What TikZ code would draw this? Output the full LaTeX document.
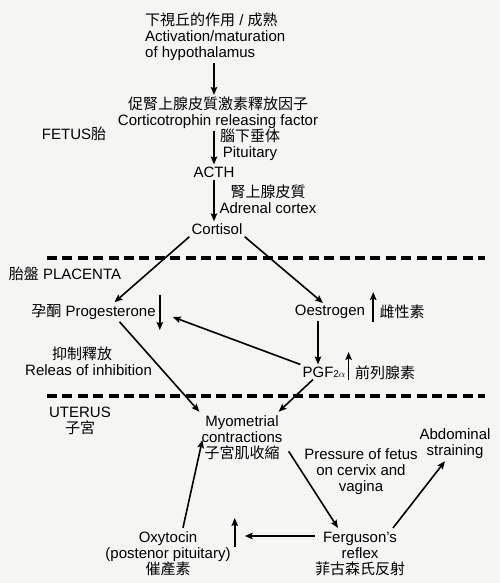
\documentclass[tikz,border=0pt]{standalone}
\usepackage{fontspec}
\setmainfont{Liberation Sans}
\newfontfamily\cjk{Noto Sans CJK TC}
\usetikzlibrary{arrows.meta}
\definecolor{paper}{RGB}{245,245,244}
\begin{document}
\begin{tikzpicture}[x=1pt,y=-1pt,
  every node/.style={font=\fontsize{15}{16}\selectfont, inner sep=2pt, text=black},
  lbl/.style={align=center},
  arr/.style={line width=1.6pt, -{Stealth[length=8pt,width=6.5pt,inset=1.5pt]}},
  ind/.style={line width=1.6pt, -{Stealth[length=8pt,width=6.5pt,inset=1.5pt]}},
  sep/.style={line width=3.3pt, dash pattern=on 10pt off 5.4pt}
]
\fill[paper] (0,0) rectangle (500,583);
\useasboundingbox (0,0) rectangle (500,583);

% nodes
\node[anchor=west, align=left] (hyp) at (143,37) {{\cjk 下視丘的作用} / {\cjk 成熟}\\Activation/maturation\\of hypothalamus};
\node[lbl] (crf) at (218,113) {{\cjk 促腎上腺皮質激素釋放因子}\\Corticotrophin releasing factor};
\node (fetus) at (74,134) {FETUS{\cjk 胎}};
\node[lbl] (pit) at (250,145) {{\cjk 腦下垂体}\\Pituitary};
\node (acth) at (214,172) {ACTH};
\node[lbl] (adr) at (268,199) {{\cjk 腎上腺皮質}\\Adrenal cortex};
\node (cort) at (217,229) {Cortisol};
\node (plac) at (65,274) {{\cjk 胎盤} PLACENTA};
\node (prog) at (93.5,312) {{\cjk 孕酮} Progesterone};
\node (oes) at (330,312) {Oestrogen};
\node (oesl) at (402,312) {\cjk 雌性素};
\node (pgf) at (324,372) {PGF{\fontsize{10}{10}\selectfont 2$\alpha$}};
\node (pgfl) at (385,373) {\cjk 前列腺素};
\node[anchor=west, align=left] (inh) at (23,361) {\hspace*{27pt}{\cjk 抑制釋放}\\Releas of inhibition};
\node[lbl] (uter) at (80,421) {UTERUS\\{\cjk 子宮}};
\node[lbl] (myo) at (242,438) {Myometrial\\contractions\\{\cjk 子宮肌收縮}};
\node[lbl] (abd) at (455,444) {Abdominal\\straining};
\node[lbl] (press) at (361,472) {Pressure of fetus\\on cervix and\\vagina};
\node[lbl] (ferg) at (360,554) {Ferguson's\\reflex\\{\cjk 菲古森氏反射}};
\node[lbl] (oxy) at (168,554) {Oxytocin\\(postenor pituitary)\\{\cjk 催產素}};

% boundaries
\draw[sep] (47,258) -- (485,258);
\draw[sep] (47,396) -- (485,396);

% fetal chain
\draw[arr] (hyp.south -| acth) -- (crf.north -| acth);
\draw[arr] (crf.south -| acth) -- (acth.north);
\draw[arr] (acth.south) -- (cort.north -| acth);

% placenta
\draw[arr] (cort.south west) -- ([xshift=21pt]prog.north);
\draw[arr] (cort.south east) -- ([xshift=-7pt]oes.north);
\draw[arr] ([xshift=-12pt]oes.south) -- ([xshift=-12pt]oes.south |- pgf.north);
\draw[arr] (pgf.north west) -- ([shift={(15,5)}]prog.east);
\draw[ind] ([shift={(2,-17)}]prog.east) -- ++(0,35);
\draw[ind] ([shift={(6,10)}]oes.east) -- ++(0,-30);
\draw[ind] ([shift={(1,8)}]pgf.east) -- ++(0,-28);

% uterus
\draw[arr] ([xshift=26pt]prog.south) -- ([yshift=2pt]myo.north west);
\draw[arr] ([xshift=-11pt]pgf.south) -- ([shift={(-6,-2)}]myo.north east);
\draw[arr] ([shift={(4,-11)}]myo.south east) -- ([shift={(-22,-2)}]ferg.north);
\draw[arr] ([shift={(33,-2)}]ferg.north) -- ([xshift=-10pt]abd.south);
\draw[arr] ([shift={(15,-2)}]oxy.north) -- ([shift={(3,2)}]myo.west);
\draw[arr] ([shift={(2,-18)}]ferg.west) -- ([shift={(12,-18)}]oxy.east);
\draw[ind] ([shift={(2,-7)}]oxy.east) -- ++(0,-29);
\end{tikzpicture}
\end{document}
